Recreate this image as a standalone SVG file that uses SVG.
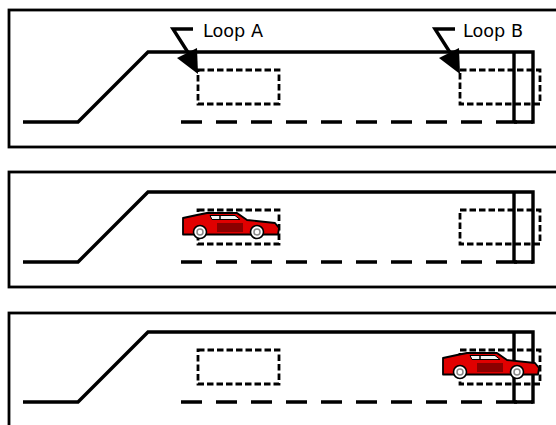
<svg xmlns="http://www.w3.org/2000/svg" width="556" height="425" viewBox="0 0 556 425">
  <style>
    .frame { fill: none; stroke: #000; stroke-width: 2.8; }
    .road { fill: none; stroke: #000; stroke-width: 3.4; stroke-linejoin: miter; }
    .lane { fill: none; stroke: #000; stroke-width: 3.4; stroke-dasharray: 21 14; }
    .loop { fill: none; stroke: #000; stroke-width: 2.8; stroke-dasharray: 6.5 3; }
    .bolt { fill: none; stroke: #000; stroke-width: 3.4; }
    .label { font-family: "DejaVu Sans", "Liberation Sans", sans-serif; font-size: 17px; fill: #000; }
  </style>
  <defs>
    <!-- one road section: ramp, top edge, gate posts, lane markings -->
    <g id="road">
      <path class="road" d="M23,122 L78,122 L148,52 L533,52 L533,122 L514,122 M514,52 L514,122"/>
      <line class="lane" x1="181" y1="122" x2="533" y2="122"/>
    </g>
    <rect id="loopA" class="loop" x="198" y="70" width="81" height="34"/>
    <rect id="loopB" class="loop" x="460" y="70" width="80" height="34"/>
    <!-- red sports car, side view, nose to the right -->
    <g id="car">
      <path d="M0,13 L14,10 L24,8 L54,8 L64,15 L92,18 L96,23 L95,29.5 L0,29.5 Z" fill="#e00000" stroke="#000" stroke-width="1.8" stroke-linejoin="round"/>
      <path d="M27,10.5 L52,10.5 L57,14.5 L29,14.5 Z" fill="#f4f4f4" stroke="#000" stroke-width="1"/>
      <line x1="37" y1="10.5" x2="37" y2="14.5" stroke="#000" stroke-width="1.5"/>
      <rect x="34" y="18" width="26" height="9" fill="#8b0000"/>
      <circle cx="17" cy="27" r="6.5" fill="#fff" stroke="#000" stroke-width="1.6"/>
      <circle cx="17" cy="27" r="3" fill="none" stroke="#888" stroke-width="1.5"/>
      <circle cx="74" cy="27" r="6.5" fill="#fff" stroke="#000" stroke-width="1.6"/>
      <circle cx="74" cy="27" r="3" fill="none" stroke="#888" stroke-width="1.5"/>
    </g>
    <!-- lightning-style pointer -->
    <g id="pointer">
      <polyline class="bolt" points="193,29 173,29 189,54"/>
      <polygon points="177,58 197,48 198,74" fill="#000"/>
    </g>
  </defs>

  <!-- panel frames -->
  <g id="panel1">
    <rect class="frame" x="9" y="10" width="560" height="137"/>
  </g>
  <g id="panel2">
    <rect class="frame" x="9" y="172" width="560" height="115"/>
  </g>
  <g id="panel3">
    <rect class="frame" x="9" y="313" width="560" height="130"/>
  </g>

  <!-- roads -->
  <g id="road1"><use href="#road"/></g>
  <g id="road2"><use href="#road" transform="translate(0,140)"/></g>
  <g id="road3"><use href="#road" transform="translate(0,280)"/></g>

  <!-- detector loops -->
  <g id="loopA1"><use href="#loopA"/></g>
  <g id="loopB1"><use href="#loopB"/></g>
  <g id="loopA2"><use href="#loopA" transform="translate(0,140)"/></g>
  <g id="loopB2"><use href="#loopB" transform="translate(0,140)"/></g>
  <g id="loopA3"><use href="#loopA" transform="translate(0,280)"/></g>
  <g id="loopB3"><use href="#loopB" transform="translate(0,280)"/></g>

  <!-- pointers and labels -->
  <g id="connectors">
    <use href="#pointer"/>
    <use href="#pointer" transform="translate(262,0)"/>
  </g>
  <g id="labelA"><text class="label" x="203" y="36.5" textLength="60" lengthAdjust="spacingAndGlyphs">Loop A</text></g>
  <g id="labelB"><text class="label" x="463" y="36.5" textLength="60" lengthAdjust="spacingAndGlyphs">Loop B</text></g>

  <!-- vehicles -->
  <g id="car2"><use href="#car" transform="translate(183,205)"/></g>
  <g id="car3"><use href="#car" transform="translate(443,345)"/></g>
</svg>
